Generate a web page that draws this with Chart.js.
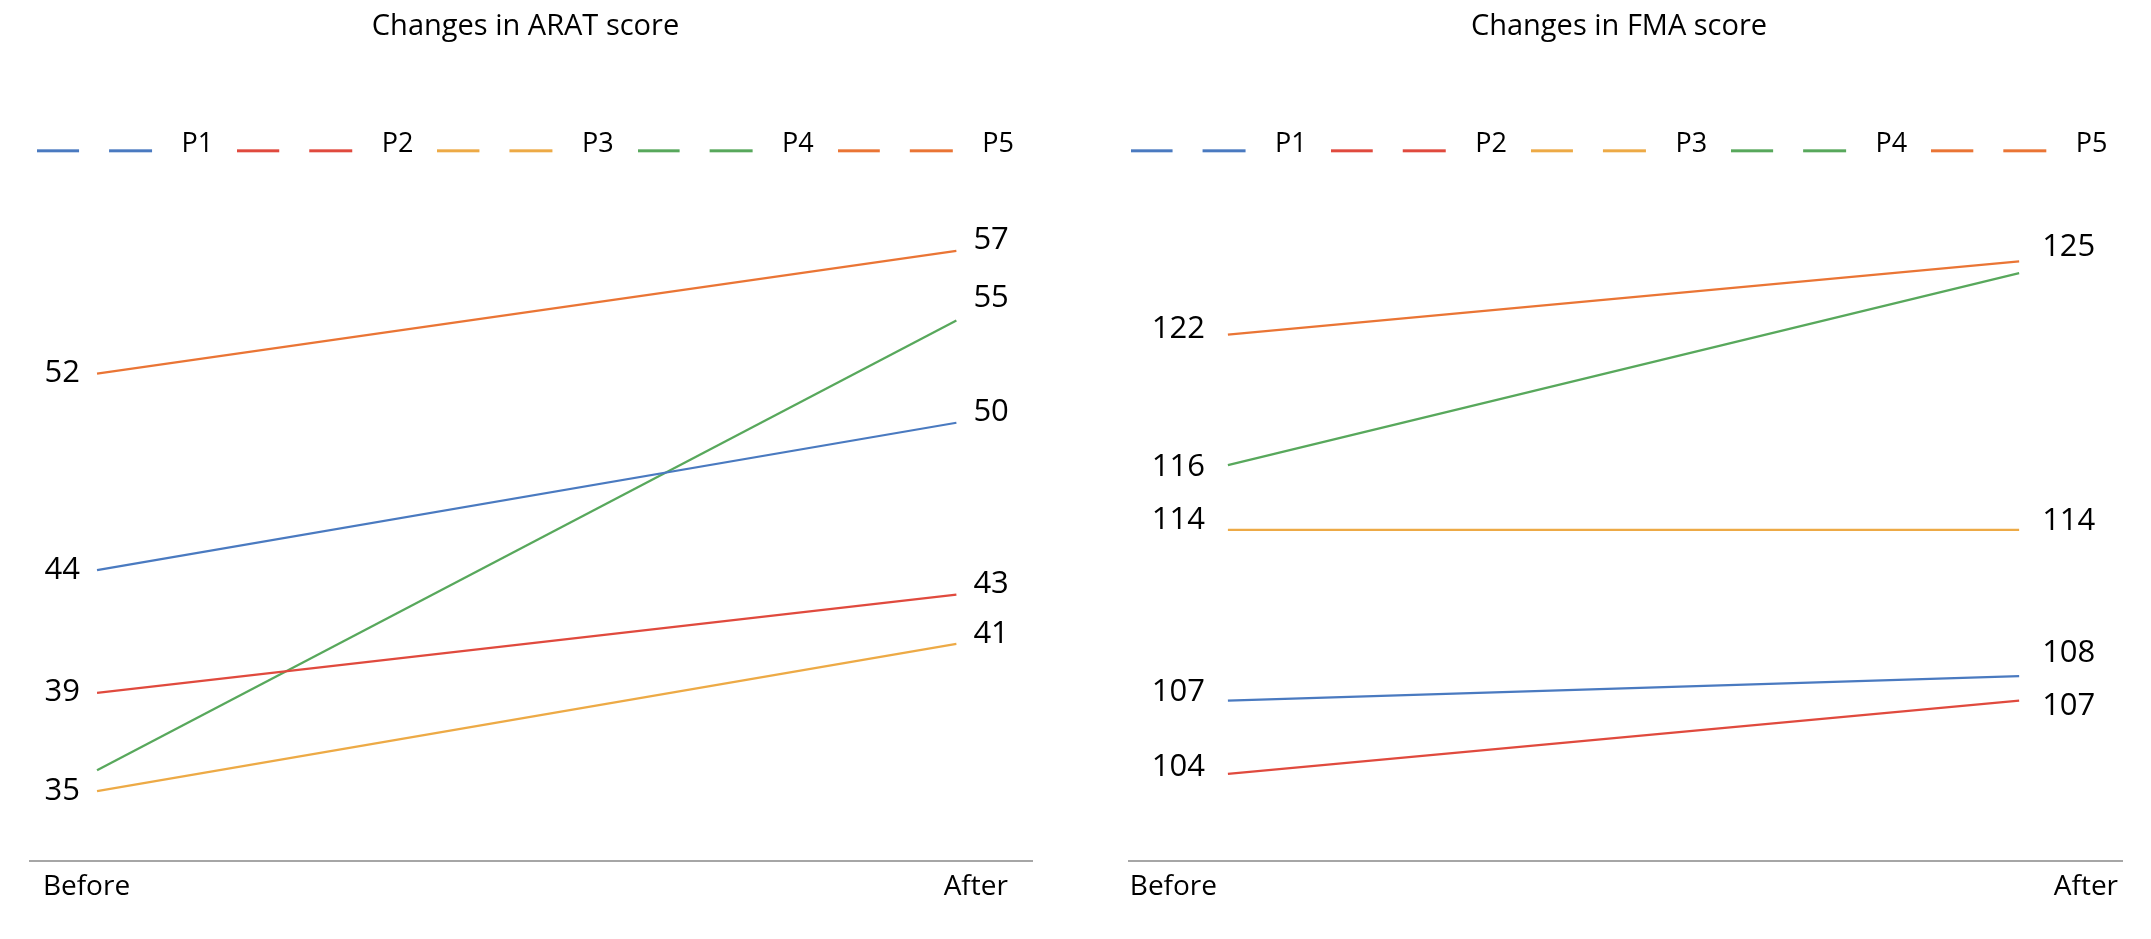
<!DOCTYPE html>
<html>
<head>
<meta charset="utf-8">
<script src="https://cdn.jsdelivr.net/npm/chart.js@4.4.1/dist/chart.umd.min.js"></script>
<style>
  html, body { margin: 0; padding: 0; background: #fff; }
  body { width: 2151px; height: 939px; position: relative; overflow: hidden; }
  canvas { position: absolute; top: 0; }
  #aratChart { left: -12px; }
  #fmaChart { left: 1087px; }
</style>
</head>
<body>
<canvas id="aratChart" width="1075" height="939"></canvas>
<canvas id="fmaChart" width="1064" height="939"></canvas>
<script>
// data
const phases = ['Before', 'After'];
const patients = ['P1', 'P2', 'P3', 'P4', 'P5'];
const aratBefore = [44, 39, 35, 35, 52];
const aratAfter = [50, 43, 41, 55, 57];
const fmaBefore = [107, 104, 114, 116, 122];
const fmaAfter = [108, 107, 114, 125, 125];
const colors = ['#4a7ac0', '#e04a3e', '#edaa46', '#58a85c', '#ea7535'];

Chart.defaults.font.family = '"Open Sans", "Noto Sans", sans-serif';
Chart.defaults.color = '#000';

// dashed legend key, drawn a bit below the text middle like the original
function legendSwatch(color) {
  const c = document.createElement('canvas');
  c.width = 131;
  c.height = 30;
  const g = c.getContext('2d');
  g.fillStyle = color;
  g.fillRect(0, 20, 42, 3);
  g.fillRect(72, 20, 43, 3);
  return c;
}

// value labels next to each end of the lines
const valueLabels = {
  id: 'valueLabels',
  afterDatasetsDraw(chart, args, opts) {
    const ctx = chart.ctx;
    ctx.save();
    ctx.font = opts.size + 'px "Open Sans", sans-serif';
    ctx.fillStyle = '#000';
    ctx.textBaseline = 'middle';
    chart.data.datasets.forEach((ds, i) => {
      chart.getDatasetMeta(i).data.forEach((pt, j) => {
        const dy = opts.dy[i][j];
        if (dy === null) return;
        const first = j === 0;
        ctx.textAlign = first ? 'right' : 'left';
        ctx.fillText(String(ds.data[j].y), pt.x + (first ? -opts.gap : opts.gap), pt.y + dy);
      });
    });
    ctx.restore();
  }
};

// invisible value axes, only used to reserve the side margins
function sideAxis(position, width, min, max) {
  return {
    position, min, max,
    grid: { display: false, drawTicks: false },
    border: { display: false },
    ticks: { display: false },
    afterFit: s => { s.width = width; }
  };
}

function makeChart(id, title, before, after, cfg) {
  const datasets = patients.map((p, i) => ({
    label: p,
    data: [{ x: 0, y: before[i] }, { x: 1, y: after[i] }],
    borderColor: colors[i],
    backgroundColor: colors[i],
    borderWidth: 2.25,
    pointRadius: 0,
    yAxisID: i === 3 ? 'y2' : 'y'
  }));

  return new Chart(document.getElementById(id), {
    type: 'line',
    data: { datasets },
    options: {
      responsive: false,
      animation: false,
      layout: { padding: { left: 0, right: 0, top: 0, bottom: 26 } },
      plugins: {
        title: {
          display: true,
          text: title,
          font: { size: 29, weight: 'normal' },
          padding: { top: 9, bottom: 63 }
        },
        legend: {
          position: 'top',
          labels: {
            font: { size: 27 },
            usePointStyle: true,
            pointStyleWidth: 131,
            padding: 24,
            generateLabels: chart => chart.data.datasets.map((ds, i) => ({
              text: ds.label,
              pointStyle: legendSwatch(ds.borderColor),
              fillStyle: ds.borderColor,
              strokeStyle: ds.borderColor,
              lineWidth: 0,
              datasetIndex: i,
              hidden: !chart.isDatasetVisible(i)
            }))
          }
        },
        tooltip: { enabled: false },
        valueLabels: { size: 31, gap: cfg.gap, dy: cfg.labelDy }
      },
      scales: {
        x: {
          type: 'linear',
          min: cfg.xMin,
          max: cfg.xMax,
          grid: { display: false, drawTicks: false },
          border: { display: true, color: '#a6a6a6', width: 2 },
          afterBuildTicks: s => { s.ticks = cfg.tickPos.map(v => ({ value: v })); },
          ticks: {
            align: 'inner',
            autoSkip: false,
            maxRotation: 0,
            padding: 9,
            font: { size: 28 },
            callback: (v, i) => phases[i]
          }
        },
        y: sideAxis('left', cfg.sides[0], cfg.yMin, cfg.yMax),
        y2: sideAxis('right', cfg.sides[1], cfg.y2Min, cfg.y2Max)
      }
    },
    plugins: [valueLabels]
  });
}

makeChart('aratChart', 'Changes in ARAT score', aratBefore, aratAfter, {
  sides: [42, 31],
  xMin: -0.078, xMax: 1.088, tickPos: [-0.063, 1.06],
  yMin: 32.14, yMax: 60.38, y2Min: 30.95, y2Max: 61.79,
  gap: 17,
  labelDy: [[0, -11], [-1, -10], [0, -10], [null, -22], [0, -11]]
});

makeChart('fmaChart', 'Changes in FMA score', fmaBefore, fmaAfter, {
  sides: [42, 29],
  xMin: -0.125, xMax: 1.13, tickPos: [-0.124, 1.125],
  yMin: 100.41, yMax: 128.84, y2Min: 97.43, y2Max: 129.94,
  gap: 23,
  labelDy: [[-8, -23], [-7, 6], [-10, -9], [2, null], [-6, -14]]
});
</script>
</body>
</html>
